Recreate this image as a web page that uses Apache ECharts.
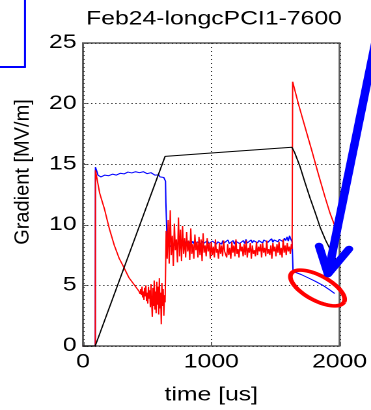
<!DOCTYPE html>
<html><head><meta charset="utf-8">
<script src="https://cdn.jsdelivr.net/npm/echarts@6/dist/echarts.min.js"></script>
<style>
html,body{margin:0;padding:0;background:#fff;overflow:hidden;}
#wrap{width:371px;height:410px;overflow:hidden;position:relative;}
#chart{width:285px;height:410px;transform:scaleX(1.30175);transform-origin:0 0;}
</style></head><body>
<div id="wrap"><div id="chart"></div></div>
<script>
const titleText = 'Feb24-longcPCI1-7600';
const xAxisName = 'time [us]';
const yAxisName = 'Gradient [MV/m]';
const xTicks = [0, 1000, 2000];
const yTicks = [0, 5, 10, 15, 20, 25];

// Black trace (time in us, gradient in MV/m)
const blackT = [0, 95, 370, 640, 1000, 1300, 1628, 1650, 1690, 1730, 1770, 1810, 1850, 1890, 1930, 1970, 2000];
const blackV = [0, 0, 7.9, 15.65, 15.92, 16.15, 16.4, 15.95, 14.85, 13.5, 12.2, 11.0, 9.75, 8.75, 7.9, 7.15, 6.6];

// Red trace
const redRiseT = [0, 96, 97, 104, 130, 168, 206, 244, 282, 321, 359, 397, 435];
const redRiseV = [0, 0, 14.5, 14.35, 12.6, 11.27, 9.65, 8.3, 7.23, 6.43, 5.62, 5.08, 4.54];
const redLowStart = 440, redLowStep = 5;
const redLowV = [4.6, 4.3, 4.7, 4.2, 4.9, 4.0, 4.5, 3.8, 4.8, 4.1, 5.0, 3.7, 4.4, 3.5, 4.9, 3.9, 4.6, 3.2, 5.1, 3.6,
  2.4, 4.8, 3.3, 5.4, 3.0, 4.5, 2.7, 5.3, 3.4, 4.9, 2.6, 5.6, 3.1, 4.4, 1.8, 5.2, 3.3, 4.7, 2.5, 4.2, 3.6];
const redMidStart = 648, redMidStep = 8;
const redMidV = [9.5, 7.2, 10.4, 6.8, 11.2, 7.5, 9.1, 6.6, 10.1, 7.9, 8.8, 6.9, 10.6, 7.4, 9.6, 7.0, 9.9, 7.6, 8.9,
  7.3, 9.4, 7.8, 8.7, 7.1, 9.7, 7.6, 8.4, 7.2, 9.2, 7.9, 8.6, 7.3, 9.0, 7.5, 8.8, 7.0, 9.3, 7.7, 8.3, 7.4, 8.9, 7.8, 8.5, 7.2,
  8.6, 7.5, 8.2, 7.3, 8.8, 7.7, 8.0, 7.2, 8.5, 7.6,
  8.3, 7.4, 8.7, 7.8, 7.9, 7.3, 8.4, 7.5, 8.1, 7.2,
  8.6, 7.7, 8.3, 7.4, 8.8, 7.6, 8.0, 7.3, 8.5, 7.8,
  8.2, 7.4, 8.4, 7.5, 8.7, 7.3, 8.1, 7.7, 8.5, 7.2,
  8.3, 7.6, 7.9, 7.4, 8.6, 7.5, 8.2, 7.8, 8.4, 7.3,
  8.5, 7.7, 8.1, 7.4, 8.7, 7.6, 8.0, 7.5, 8.3, 7.2,
  8.5, 7.8, 8.2, 7.4, 8.4, 7.7, 8.6, 7.5, 8.1, 7.3,
  8.8, 7.7, 8.3, 7.5, 8.5, 7.8, 8.2, 7.6, 8.4];
const redEndT = [1630, 1634, 1682, 1733, 1784, 1834, 1885, 1924, 1995];
const redEndV = [8.0, 21.8, 19.86, 17.98, 16.1, 14.2, 12.34, 11.0, 9.0];

// Blue trace
const blueRiseT = [0, 96, 97, 105, 117];
const blueRiseV = [0, 0, 14.76, 14.5, 14.09];
const blueHighStart = 120, blueHighStep = 10;
const blueHighV = [14.0, 14.1, 13.95, 14.05, 14.0, 14.1, 14.0, 14.12, 14.05, 14.15,
  14.05, 14.18, 14.08, 14.2, 14.1, 14.22, 14.12, 14.25, 14.15, 14.28,
  14.2, 14.3, 14.2, 14.35, 14.25, 14.38, 14.28, 14.4, 14.3, 14.38,
  14.28, 14.42, 14.3, 14.4, 14.28, 14.38, 14.25, 14.35, 14.22, 14.32,
  14.2, 14.3, 14.15, 14.25, 14.1, 14.2, 14.05, 14.12, 13.95, 14.0,
  13.85, 13.9, 13.8];
const blueDropT = [643, 646, 651, 656];
const blueDropV = [13.6, 11.8, 10.1, 8.4];
const blueMidStart = 660, blueMidStep = 10;
const blueMidV = [8.3, 8.5, 8.2, 8.4, 8.25, 8.5, 8.3, 8.45, 8.2, 8.5,
  8.35, 8.6, 8.4, 8.65, 8.45, 8.7, 8.4, 8.6, 8.35, 8.65,
  8.45, 8.7, 8.4, 8.6, 8.5, 8.75, 8.4, 8.65, 8.45, 8.6,
  8.4, 8.7, 8.45, 8.6, 8.35, 8.65, 8.5, 8.7, 8.4, 8.6,
  8.45, 8.65, 8.4, 8.7, 8.5, 8.6, 8.4, 8.75, 8.45, 8.6,
  8.5, 8.7, 8.4, 8.65, 8.5, 8.75, 8.45, 8.6, 8.5, 8.7,
  8.45, 8.8, 8.5, 8.65, 8.55, 8.75, 8.5, 8.7, 8.55, 8.8,
  8.5, 8.7, 8.6, 8.85, 8.5, 8.75, 8.6, 8.8, 8.55, 8.7,
  8.6, 8.85, 8.55, 8.75, 8.65, 8.9, 8.6, 8.8, 8.65, 8.85,
  8.6, 8.9, 8.7, 9.0, 8.65, 9.1, 8.8];
const blueEndT = [1630, 1635, 1637, 1700, 1760, 1809, 1870, 1920, 1962];
const blueEndV = [8.6, 8.5, 6.15, 5.9, 5.6, 5.35, 5.0, 4.65, 4.33];

function pairs(ts, vs) { return ts.map((t, i) => [t, vs[i]]); }
function sampled(start, step, vs) { return vs.map((v, i) => [start + i * step, v]); }

const blackData = pairs(blackT, blackV);
const redData = [].concat(pairs(redRiseT, redRiseV), sampled(redLowStart, redLowStep, redLowV),
  sampled(redMidStart, redMidStep, redMidV), pairs(redEndT, redEndV));
const blueData = [].concat(pairs(blueRiseT, blueRiseV), sampled(blueHighStart, blueHighStep, blueHighV),
  pairs(blueDropT, blueDropV), sampled(blueMidStart, blueMidStep, blueMidV), pairs(blueEndT, blueEndV));

// Page is drawn in a frame 285px wide and stretched horizontally to 371px (the reference's text is horizontally stretched)
const SX = 371 / 285;
const FONT = "'Liberation Sans', Arial, sans-serif";
const chart = echarts.init(document.getElementById('chart'), null, {renderer: 'canvas', devicePixelRatio: 2});

function lineSeries(name, data, color) {
  return { name, type: 'line', data, showSymbol: false, symbol: 'none', animation: false,
    lineStyle: { color, width: 1 }, itemStyle: { color }, emphasis: { disabled: true } };
}

// annotation geometry in picture pixels
const ellipsePts = [];
for (let k = 0; k <= 72; k++) {
  const a = k / 72 * 2 * Math.PI, th = 28 * Math.PI / 180;
  const ex = 30 * Math.cos(a), ey = 12.5 * Math.sin(a);
  ellipsePts.push([(317.5 + ex * Math.cos(th) - ey * Math.sin(th)) / SX, 288 + ex * Math.sin(th) + ey * Math.cos(th)]);
}
const px = p => [p[0] / SX, p[1]];

chart.setOption({
  animation: false,
  backgroundColor: '#ffffff',
  title: { text: titleText, left: 214 / SX, top: 10, padding: 0, textAlign: 'center',
    textStyle: { fontFamily: FONT, fontSize: 19, fontWeight: 'normal', color: '#000' } },
  grid: { left: 83 / SX, right: 26 / SX, top: 43, bottom: 57, show: true, borderColor: '#5c5c5c', borderWidth: 1.5, containLabel: false },
  xAxis: { type: 'value', min: xTicks[0], max: xTicks[xTicks.length - 1], interval: xTicks[1] - xTicks[0],
    name: xAxisName, nameLocation: 'middle', nameGap: 40,
    nameTextStyle: { fontFamily: FONT, fontSize: 19, color: '#000' },
    axisLine: { show: false }, axisTick: { show: true, inside: true, length: 4, lineStyle: { color: '#5c5c5c' } },
    axisLabel: { fontFamily: FONT, fontSize: 19, color: '#000', margin: 7, formatter: v => String(v) },
    splitLine: { show: true, lineStyle: { color: '#333', type: [1, 3], width: 1 } } },
  yAxis: { type: 'value', min: yTicks[0], max: yTicks[yTicks.length - 1], interval: yTicks[1] - yTicks[0],
    axisLine: { show: false }, axisTick: { show: true, inside: true, length: 3, lineStyle: { color: '#5c5c5c' } },
    axisLabel: { fontFamily: FONT, fontSize: 19, color: '#000', margin: 5, formatter: v => String(v) },
    splitLine: { show: true, lineStyle: { color: '#333', type: [1, 2.1], width: 1 } } },
  series: [
    lineSeries('blue', blueData, '#0000ff'),
    lineSeries('red', redData, '#ff0000'),
    lineSeries('black', blackData, '#000000')
  ],
  graphic: [
    { type: 'text', z: 100, x: 23 / SX, y: 172, rotation: Math.PI / 2, scaleY: 1 / SX,
      style: { text: yAxisName, font: "20px 'Liberation Sans', Arial, sans-serif", fill: '#000', align: 'center', verticalAlign: 'middle' } },
    { type: 'line', z: 100, shape: { x1: 25 / SX, y1: 0, x2: 25 / SX, y2: 67 },
      style: { stroke: '#0000ff', lineWidth: 2 / SX } },
    { type: 'line', z: 100, shape: { x1: 0, y1: 67, x2: 25 / SX + 0.7, y2: 67 },
      style: { stroke: '#0000ff', lineWidth: 2 } },
    { type: 'polyline', z: 100, shape: { points: ellipsePts },
      style: { stroke: '#ff0000', lineWidth: 3.6, fill: null } },
    { type: 'polyline', z: 101, shape: { points: [px([384, 0]), px([328, 274])] },
      style: { stroke: '#0000ff', lineWidth: 6.5, lineCap: 'round', fill: null } },
    { type: 'polyline', z: 101, shape: { points: [px([319, 246]), px([328, 274]), px([349, 249])] },
      style: { stroke: '#0000ff', lineWidth: 6.5, lineCap: 'round', lineJoin: 'round', fill: null } }
  ]
});
</script>
</body></html>
